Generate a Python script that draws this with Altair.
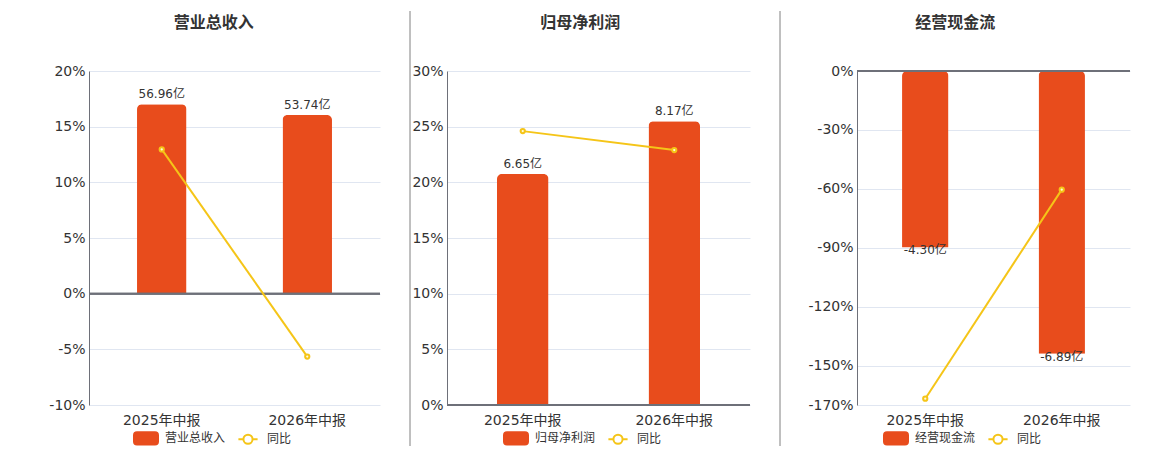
import altair as alt
import pandas as pd

categories = ["2025年中报", "2026年中报"]
titles = ["营业总收入", "归母净利润", "经营现金流"]
revenue = [56.96, 53.74]
revenue_yoy = [12.96, -5.65]
net_profit = [6.65, 8.17]
net_profit_yoy = [24.6, 22.9]
cash_flow = [-4.30, -6.89]
cash_flow_yoy = [-166.8, -60.4]
yoy_name = "同比"

BAR = "#e84c1c"
LINE = "#f5c518"
TXT = "#333333"
FONT = "DejaVu Sans, Noto Sans CJK SC, sans-serif"

RECT_PATH = ("M-0.75,-0.52 L0.75,-0.52 Q1,-0.52 1,-0.27 L1,0.27 Q1,0.52 0.75,0.52 "
             "L-0.75,0.52 Q-1,0.52 -1,0.27 L-1,-0.27 Q-1,-0.52 -0.75,-0.52 Z")
LC_PATH = ("M-0.8,0 L-0.38,0 M0.38,0 L0.8,0 "
           "M-0.38,0 A0.38,0.38 0 1 1 0.38,0 A0.38,0.38 0 1 1 -0.38,0 Z")


def panel(title, vals, yoys, bar_domain, pct_domain, pct_ticks, width,
          sep_x, sep_opacity, legend_x, negative):
    df = pd.DataFrame({
        "cat": categories,
        "val": vals,
        "yoy": yoys,
        "lab": [f"{v:.2f}亿" for v in vals],
        "s": [title] * len(vals),
    })
    base = alt.Chart(df)
    x = alt.X("cat:N", sort=categories,
              scale=alt.Scale(paddingInner=0.66, paddingOuter=0.33),
              axis=alt.Axis(title=None, labelAngle=0, domain=False, ticks=False,
                            grid=False, labelFontSize=14, labelColor=TXT,
                            labelPadding=8, labelFont=FONT))
    ybar = alt.Y("val:Q", scale=alt.Scale(domain=bar_domain, nice=False, zero=False),
                 axis=None)
    bars = base.mark_bar(color=BAR, cornerRadiusEnd=5).encode(x=x, y=ybar)
    text = base.mark_text(fontSize=12, color=TXT, font=FONT,
                          baseline="top" if negative else "bottom",
                          dy=-2 if negative else -3).encode(x=x, y=ybar, text="lab:N")
    bar_group = alt.layer(bars, text)

    ypct = alt.Y("yoy:Q", scale=alt.Scale(domain=pct_domain, nice=False, zero=False),
                 axis=alt.Axis(orient="left", title=None, values=pct_ticks,
                               labelExpr="datum.value + '%'", ticks=False,
                               domain=True, domainColor="#6e7079", domainWidth=1,
                               grid=True, gridColor="#e0e6f1", labelFontSize=14,
                               labelColor=TXT, labelPadding=4, labelFont=FONT))
    zero = base.mark_rule(color="#6e7079", strokeWidth=2).encode(y=alt.datum(0))
    line = base.mark_line(color=LINE, strokeWidth=2).encode(x=x, y=ypct)
    pts = base.mark_point(filled=True, fill="#fffbe0", stroke=LINE, strokeWidth=2,
                          size=18, opacity=1).encode(x=x, y=ypct)
    sep = base.mark_rule(color="#aaaaaa", strokeWidth=1, opacity=sep_opacity).encode(
        x=alt.value(sep_x), y=alt.value(-60), y2=alt.value(375))

    dom = [title, yoy_name]
    leg = alt.Legend(orient="none", legendX=legend_x, legendY=354,
                     direction="horizontal", title=None, labelFontSize=12,
                     labelColor=TXT, labelFont=FONT, symbolSize=576,
                     symbolStrokeWidth=2, labelOffset=6, columnPadding=8,
                     padding=0)
    legend_layer = base.mark_point(filled=True, opacity=1).encode(
        fill=alt.Fill("s:N", scale=alt.Scale(domain=dom, range=[BAR, "white"]), legend=leg),
        stroke=alt.Stroke("s:N", scale=alt.Scale(domain=dom, range=[BAR, LINE]), legend=leg),
        shape=alt.Shape("s:N", scale=alt.Scale(domain=dom, range=[RECT_PATH, LC_PATH]), legend=leg),
    ).transform_filter("false")

    line_group = alt.layer(zero, line, pts, sep, legend_layer)

    return alt.layer(bar_group, line_group).resolve_scale(y="independent").properties(
        width=width, height=334,
        title=alt.TitleParams(text=title, fontSize=16, fontWeight="bold", color=TXT,
                              anchor="middle", frame="bounds", offset=-20, font=FONT),
    )


p1 = panel(titles[0], revenue, revenue_yoy, [-33.5, 67], [-10, 20],
           [-10, -5, 0, 5, 10, 15, 20], 291, -42.5, 0, 44, False)
p2 = panel(titles[1], net_profit, net_profit_yoy, [0, 9.62], [0, 30],
           [0, 5, 10, 15, 20, 25, 30], 303, -37, 1, 56, False)
p3 = panel(titles[2], cash_flow, cash_flow_yoy, [-8.14, 0], [-170, 0],
           [0, -30, -60, -90, -120, -150, -170], 273, -77, 1, 26, True)

chart = alt.hconcat(p1, p2, p3, spacing=28).resolve_scale(
    fill="independent", stroke="independent", shape="independent"
).configure(
    font=FONT, padding={"left": 38, "top": 2, "right": 5, "bottom": 0}
).configure_view(stroke=None)

chart.save("out.html", embed_options={"renderer": "svg", "actions": False})
